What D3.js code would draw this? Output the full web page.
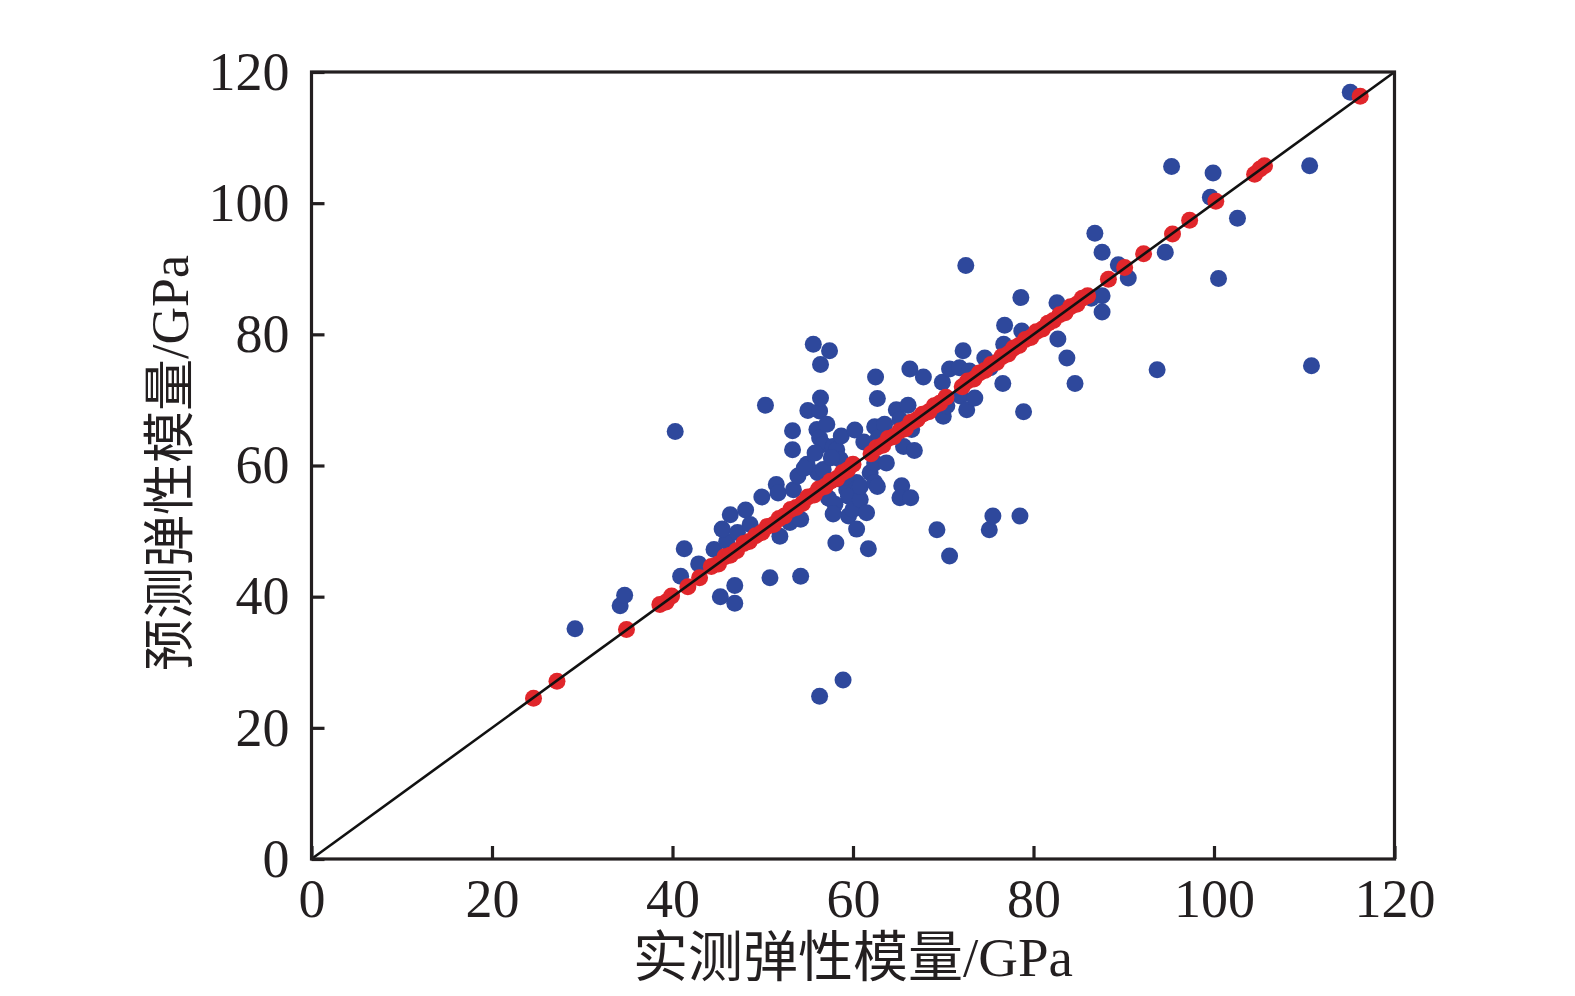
<!DOCTYPE html>
<html>
<head>
<meta charset="utf-8">
<script src="https://cdn.jsdelivr.net/npm/d3@7"></script>
<style>
  body { margin: 0; background: #fff; }
  svg text { font-family: "Liberation Serif", "Noto Sans CJK SC", serif; fill: #231f20; }
</style>
</head>
<body>
<div id="chart"></div>
<script>
// measured vs predicted modulus (GPa), blue series
const blueMeasured = [29.2, 34.2, 34.7, 40.3, 41.3, 40.9, 42.9, 44.6, 45.3, 46.0, 45.5, 46.4, 46.9, 46.9, 48.1, 49.9,
  50.3, 50.8, 51.5, 51.9, 51.7, 53.0, 53.3, 53.3, 53.4, 53.9, 54.2, 54.2, 54.9, 55.0, 55.6, 56.0, 56.1, 56.3, 56.3,
  56.3, 56.4, 56.4, 56.7, 56.7, 57.3, 57.4, 57.1, 57.8, 58.1, 58.2, 58.6, 58.6, 58.7, 58.9, 59.3, 59.5, 59.5, 60.2,
  60.0, 60.4, 60.4, 60.8, 60.8, 61.5, 61.7, 61.9, 62.4, 62.4, 62.4, 62.5, 62.7, 62.7, 62.8, 63.5, 63.7, 64.8, 65.2,
  65.4, 65.2, 66.4, 65.6, 66.8, 66.1, 66.5, 66.3, 67.8, 69.3, 69.9, 70.0, 70.4, 70.7, 70.7, 71.9, 71.8, 72.2, 72.5,
  72.6, 72.9, 73.5, 74.6, 75.1, 75.2, 75.5, 76.6, 76.7, 76.8, 78.5, 78.6, 78.7, 78.9, 82.6, 82.7, 83.7, 84.6, 86.4,
  86.8, 87.6, 87.6, 87.6, 89.4, 90.5, 93.7, 94.6, 95.3, 99.6, 99.9, 100.5, 102.6, 110.6, 110.8, 115.1,
  55.8, 57.6, 58.0, 57.8, 59.1, 54.6, 61.2, 47.2, 48.6];
const bluePredicted = [35.1, 38.6, 40.2, 65.2, 47.3, 43.1, 45.0, 47.2, 40.0, 48.4, 50.3, 52.5, 41.7, 39.0, 53.2, 55.2,
  69.2, 42.9, 57.1, 49.2, 55.8, 51.3, 65.3, 62.4, 56.3, 58.4, 51.8, 43.1, 60.2, 68.4, 78.5, 65.5, 58.9, 68.3, 64.2,
  24.8, 75.4, 70.3, 63.2, 59.4, 55.0, 77.5, 66.3, 62.9, 48.2, 62.4, 57.9, 60.9, 64.5, 27.3, 56.3, 55.3, 52.3, 65.4,
  53.3, 57.4, 50.3, 54.8, 56.8, 52.8, 47.3, 58.9, 60.4, 57.4, 65.9, 73.5, 70.2, 56.8, 64.2, 66.3, 60.4, 68.5, 67.0,
  56.9, 55.1, 55.1, 62.9, 62.3, 69.2, 65.5, 74.7, 73.5, 50.2, 72.7, 67.5, 69.1, 74.7, 46.2, 70.6, 74.9, 77.5, 90.5,
  68.5, 74.4, 70.3, 76.4, 50.2, 74.9, 52.3, 72.5, 78.5, 81.4, 52.3, 85.6, 80.5, 68.2, 84.8, 79.3, 76.4, 72.5, 85.5,
  95.4, 92.5, 85.9, 83.4, 90.6, 88.6, 74.6, 92.5, 105.6, 100.9, 104.6, 88.5, 97.7, 105.7, 75.2, 116.9,
  61.9, 61.2, 54.1, 52.6, 58.2, 59.6, 63.6, 49.8, 51.0];

// red series (lies on the 1:1 line)
const redMeasured = [24.6, 27.2, 34.9, 38.6, 39.3, 39.9, 41.7, 43.0, 44.3, 45.1, 45.8, 46.4, 47.1, 47.9, 48.5, 49.2,
  49.9, 50.5, 51.2, 51.8, 52.4, 53.1, 53.7, 54.4, 55.0, 55.7, 56.2, 56.9, 57.5, 58.2, 58.8, 59.4, 60.0, 62.0, 62.6,
  63.3, 63.9, 64.5, 65.2, 65.8, 66.4, 67.1, 67.7, 68.4, 69.0, 69.6, 70.3, 72.1, 72.7, 73.4, 74.0, 74.6, 75.3, 75.9,
  76.5, 77.2, 77.8, 78.4, 79.1, 79.7, 80.3, 81.0, 81.6, 82.2, 82.9, 83.5, 84.1, 84.8, 85.4, 86.0, 88.3, 90.1, 92.2,
  95.4, 97.3, 100.2, 104.5, 105.1, 105.6, 116.2];
const redPredicted = [24.5, 27.1, 35.0, 38.8, 39.2, 40.1, 41.5, 42.9, 44.6, 45.0, 46.1, 46.3, 47.0, 48.1, 48.4, 49.3,
  49.8, 50.7, 51.0, 51.9, 52.3, 53.3, 53.6, 54.2, 55.2, 55.5, 56.4, 56.8, 57.6, 58.0, 58.9, 59.3, 60.2, 61.8, 62.7,
  63.1, 64.1, 64.4, 65.3, 65.6, 66.6, 67.0, 67.8, 68.2, 69.1, 69.5, 70.4, 72.0, 72.9, 73.2, 74.1, 74.5, 75.4, 75.7,
  76.6, 77.0, 77.9, 78.3, 79.2, 79.5, 80.4, 80.8, 81.7, 82.1, 83.0, 83.3, 84.2, 84.6, 85.5, 85.9, 88.4, 90.2, 92.3,
  95.3, 97.4, 100.3, 104.4, 105.2, 105.7, 116.3];

const ticks = [0, 20, 40, 60, 80, 100, 120];
const xTitle = "实测弹性模量/GPa";
const yTitle = "预测弹性模量/GPa";

const W = 1575, H = 996;
const svg = d3.select("#chart").append("svg")
  .attr("width", W).attr("height", H);

const x = d3.scaleLinear().domain([0, 120]).range([311.5, 1394.5]);
const y = d3.scaleLinear().domain([0, 120]).range([859, 72]);

const ink = "#231f20";

// points
const blue = blueMeasured.map((m, i) => ({ m: m, p: bluePredicted[i] }));
const red = redMeasured.map((m, i) => ({ m: m, p: redPredicted[i] }));

svg.append("g").selectAll("circle")
  .data(blue).join("circle")
  .attr("cx", d => x(d.m)).attr("cy", d => y(d.p))
  .attr("r", 8.5).attr("fill", "#2e489c");

svg.append("g").selectAll("circle")
  .data(red).join("circle")
  .attr("cx", d => x(d.m)).attr("cy", d => y(d.p))
  .attr("r", 8.5).attr("fill", "#e0262b");

// 1:1 line
svg.append("line")
  .attr("x1", x(0)).attr("y1", y(0))
  .attr("x2", x(120)).attr("y2", y(120))
  .attr("stroke", "#111").attr("stroke-width", 2.6);

// axes
const xAxis = svg.append("g")
  .attr("transform", "translate(0," + y(0) + ")")
  .call(d3.axisBottom(x).tickValues(ticks).tickSizeInner(-13).tickSizeOuter(0).tickFormat(d3.format("d")));
xAxis.selectAll("text").attr("y", 58).attr("dy", null).style("font-size", "54px");

const yAxis = svg.append("g")
  .attr("transform", "translate(" + x(0) + ",0)")
  .call(d3.axisLeft(y).tickValues(ticks).tickSizeInner(-13).tickSizeOuter(0).tickPadding(22).tickFormat(d3.format("d")));
yAxis.selectAll("text").style("font-size", "54px");

[xAxis, yAxis].forEach(a => {
  a.select(".domain").remove();
  a.selectAll("line").attr("stroke", ink).attr("stroke-width", 3.2);
  a.selectAll("text").attr("fill", ink);
});

// frame
svg.append("rect")
  .attr("x", x(0)).attr("y", y(120))
  .attr("width", x(120) - x(0)).attr("height", y(0) - y(120))
  .attr("fill", "none").attr("stroke", ink).attr("stroke-width", 3.2);

// titles
svg.append("text")
  .attr("x", (x(0) + x(120)) / 2).attr("y", 976)
  .attr("text-anchor", "middle")
  .style("font-size", "55px")
  .text(xTitle);

svg.append("text")
  .attr("transform", "translate(188,463) rotate(-90)")
  .attr("text-anchor", "middle")
  .style("font-size", "52px")
  .text(yTitle);
</script>
</body>
</html>
